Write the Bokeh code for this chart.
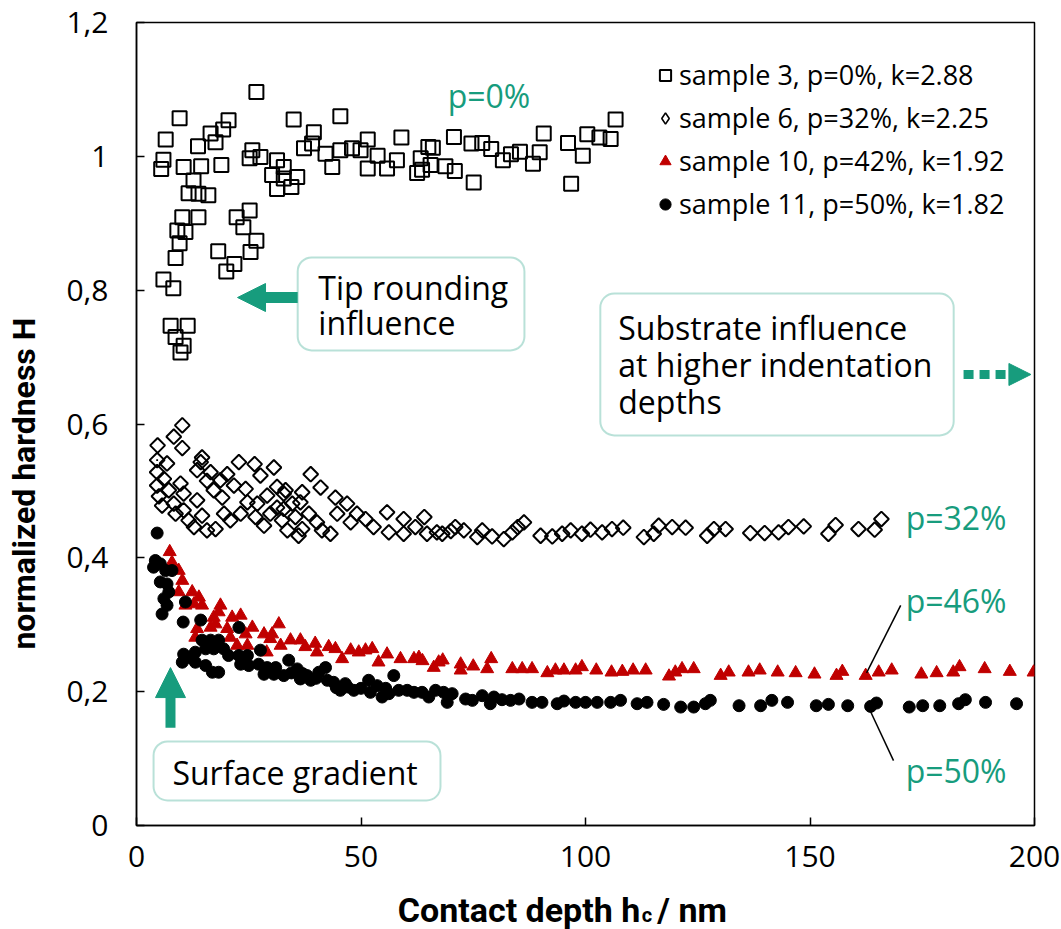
import numpy as np
from bokeh.plotting import figure
from bokeh.layouts import column
from bokeh.models import (Range1d, FixedTicker, CustomJSTickFormatter, Label, BoxAnnotation,
                          Arrow, NormalHead, Legend, LegendItem)
from bokeh.embed import file_html
from bokeh.resources import INLINE

# ---------------- data ----------------
sq_x = [5.5, 6.0, 6.5, 6.0, 7.6, 8.2, 8.7, 8.7, 9.1, 9.6, 9.6, 9.8, 10.2, 10.5, 10.5, 10.9, 11.4, 11.6,
        12.7, 13.7, 13.8, 13.8, 14.4, 16.0, 16.5, 17.6, 18.2, 18.9, 19.3, 20.0, 20.5, 21.8, 22.3, 23.8,
        25.2, 25.4, 25.2, 25.8, 26.7, 26.7, 27.6, 30.2, 31.3, 31.3, 32.8, 32.8, 34.5, 35.0, 35.8, 37.3,
        39.1, 39.5, 42.1, 43.6, 45.4, 45.4, 48.0, 49.9, 51.5, 51.5, 53.7, 55.8, 58.0, 59.0, 62.5, 63.3,
        63.6, 65.0, 65.5, 66.0, 68.8, 70.7, 70.9, 74.6, 75.1, 77.0, 79.0, 81.6, 83.4, 85.4, 88.3, 89.8,
        90.7, 96.1, 96.8, 99.4, 100.4, 103.1, 105.6, 106.7]
sq_y = [0.981, 0.995, 1.025, 0.816, 0.747, 0.803, 0.848, 0.730, 0.889, 0.870, 1.057, 0.707, 0.909, 0.717,
        0.984, 0.887, 0.747, 0.945, 0.964, 1.015, 0.944, 0.909, 0.985, 0.942, 1.034, 1.021, 0.858, 0.987,
        1.040, 0.828, 1.054, 0.839, 0.909, 0.894, 0.919, 0.857, 0.997, 1.009, 0.874, 1.096, 0.999, 0.972,
        0.994, 0.951, 0.984, 0.967, 0.954, 1.055, 0.969, 1.012, 1.019, 1.036, 1.004, 0.984, 1.060, 1.009,
        1.012, 1.009, 1.025, 0.982, 1.001, 0.982, 0.994, 1.028, 0.975, 0.997, 0.980, 1.014, 0.987, 1.013,
        0.985, 1.029, 0.978, 1.019, 0.961, 1.020, 1.011, 0.994, 1.003, 1.007, 0.989, 1.006, 1.034, 1.020,
        0.959, 1.001, 1.033, 1.028, 1.026, 1.055]

di_x = [4.6, 4.6, 4.6, 4.7, 5.0, 5.7, 6.1, 6.8, 7.2, 8.3, 8.3, 8.7, 9.8, 10.2, 10.2, 10.5, 10.5, 11.6,
        12.8, 13.5, 13.5, 14.3, 14.6, 14.6, 15.7, 15.7, 16.5, 17.2, 17.6, 18.7, 19.1, 19.5, 20.2, 20.9,
        21.7, 22.8, 23.2, 24.3, 24.7, 26.3, 26.5, 26.9, 27.6, 28.4, 29.1, 29.8, 30.6, 31.3, 31.3, 32.4,
        32.8, 32.8, 33.2, 33.6, 34.7, 35.4, 36.1, 36.5, 36.9, 36.9, 38.4, 38.8, 40.2, 41.0, 41.3, 43.2,
        44.3, 44.7, 46.9, 47.7, 49.1, 51.0, 52.8, 55.8, 56.2, 59.5, 59.5, 62.1, 64.1, 64.7, 66.9, 68.1,
        70.0, 71.0, 72.9, 75.9, 77.0, 79.2, 81.8, 83.7, 84.9, 86.3, 90.0, 92.6, 94.8, 96.7, 99.2, 101.1,
        103.7, 105.9, 108.4, 113.0, 115.2, 116.3, 119.3, 122.3, 127.1, 128.6, 131.2, 136.7, 139.9, 143.0,
        145.2, 148.6, 154.1, 155.7, 160.8, 164.4, 165.9]
di_y = [0.546, 0.528, 0.508, 0.568, 0.492, 0.478, 0.518, 0.541, 0.501, 0.581, 0.481, 0.466, 0.511, 0.598,
        0.564, 0.496, 0.471, 0.456, 0.446, 0.486, 0.531, 0.543, 0.550, 0.463, 0.515, 0.441, 0.528, 0.501,
        0.443, 0.516, 0.490, 0.466, 0.525, 0.456, 0.508, 0.543, 0.466, 0.503, 0.483, 0.540, 0.461, 0.481,
        0.523, 0.448, 0.493, 0.466, 0.535, 0.506, 0.475, 0.456, 0.496, 0.473, 0.501, 0.441, 0.481, 0.461,
        0.433, 0.483, 0.498, 0.443, 0.466, 0.525, 0.453, 0.505, 0.441, 0.436, 0.490, 0.466, 0.481, 0.453,
        0.466, 0.458, 0.446, 0.468, 0.438, 0.458, 0.436, 0.446, 0.461, 0.436, 0.438, 0.436, 0.440, 0.446,
        0.441, 0.431, 0.441, 0.432, 0.428, 0.438, 0.446, 0.453, 0.433, 0.432, 0.436, 0.441, 0.436, 0.442,
        0.438, 0.443, 0.445, 0.431, 0.436, 0.448, 0.446, 0.445, 0.433, 0.443, 0.443, 0.437, 0.437, 0.438,
        0.446, 0.447, 0.436, 0.449, 0.443, 0.442, 0.458]

tr_x = [7.4, 7.9, 9.4, 10.2, 9.4, 12.4, 13.9, 10.9, 12.8, 14.6, 17.2, 18.7, 18.3, 13.5, 13.1, 16.5, 17.6,
        20.2, 21.3, 23.2, 20.9, 22.4, 24.7, 25.8, 24.3, 28.4, 29.8, 31.7, 29.0, 30.2, 32.1, 34.3, 36.5,
        37.6, 39.8, 40.2, 42.8, 44.3, 45.8, 47.7, 49.5, 51.0, 52.5, 53.9, 55.8, 58.8, 61.8, 62.9, 63.7,
        66.2, 67.3, 68.2, 72.2, 72.2, 75.0, 79.0, 78.1, 83.7, 85.9, 88.1, 91.5, 93.3, 95.2, 97.8, 99.2,
        102.4, 105.8, 108.2, 110.6, 113.4, 118.6, 120.0, 121.5, 124.1, 130.1, 131.9, 136.3, 138.8, 142.8,
        146.8, 151.0, 155.9, 157.2, 162.4, 165.3, 168.2, 174.8, 178.2, 181.9, 183.3, 188.9, 194.5, 199.8]
tr_y = [0.409, 0.393, 0.381, 0.366, 0.349, 0.349, 0.341, 0.329, 0.331, 0.329, 0.311, 0.329, 0.319, 0.294,
        0.281, 0.296, 0.301, 0.294, 0.311, 0.314, 0.281, 0.269, 0.269, 0.296, 0.286, 0.286, 0.279, 0.301,
        0.259, 0.286, 0.269, 0.277, 0.277, 0.267, 0.272, 0.259, 0.267, 0.264, 0.249, 0.262, 0.259, 0.262,
        0.264, 0.244, 0.256, 0.249, 0.249, 0.251, 0.246, 0.236, 0.244, 0.247, 0.241, 0.232, 0.238, 0.249,
        0.234, 0.234, 0.234, 0.234, 0.228, 0.232, 0.232, 0.232, 0.237, 0.232, 0.229, 0.230, 0.232, 0.232,
        0.223, 0.229, 0.234, 0.234, 0.224, 0.229, 0.229, 0.232, 0.229, 0.228, 0.226, 0.224, 0.230, 0.224,
        0.229, 0.232, 0.226, 0.228, 0.229, 0.237, 0.234, 0.230, 0.229]

ci_x = [4.6, 4.2, 3.8, 5.3, 6.5, 7.9, 5.3, 6.8, 7.2, 6.1, 6.8, 5.7, 10.9, 10.4, 14.3, 22.8, 10.5, 10.2,
        11.6, 13.1, 13.1, 14.6, 16.5, 18.3, 15.4, 17.2, 19.4, 20.5, 15.4, 16.9, 18.3, 22.8, 23.2, 24.7,
        25.0, 27.6, 27.2, 29.1, 31.0, 28.4, 33.9, 35.8, 30.6, 32.8, 34.5, 37.0, 42.1, 40.6, 38.0, 36.5,
        38.8, 40.0, 42.5, 43.9, 44.5, 46.5, 45.4, 47.0, 48.4, 50.0, 51.7, 53.6, 57.3, 52.1, 54.7, 55.5,
        56.2, 58.4, 60.3, 61.8, 63.6, 65.1, 66.6, 68.4, 70.3, 69.2, 73.3, 74.8, 77.0, 78.8, 79.6, 81.4,
        83.3, 85.2, 88.1, 90.3, 93.7, 95.2, 97.8, 100.0, 102.6, 105.6, 107.8, 111.5, 113.7, 117.4, 121.2,
        124.1, 126.7, 127.8, 134.2, 139.0, 141.5, 145.0, 151.4, 154.1, 158.4, 163.5, 164.8, 172.1, 175.1,
        178.9, 183.1, 184.6, 189.1, 196.0]
ci_y = [0.437, 0.396, 0.386, 0.391, 0.381, 0.381, 0.364, 0.361, 0.349, 0.339, 0.329, 0.316, 0.334, 0.304,
        0.307, 0.296, 0.256, 0.244, 0.251, 0.259, 0.244, 0.277, 0.277, 0.277, 0.264, 0.264, 0.264, 0.254,
        0.239, 0.229, 0.229, 0.254, 0.241, 0.254, 0.239, 0.262, 0.241, 0.236, 0.236, 0.226, 0.247, 0.234,
        0.226, 0.224, 0.228, 0.227, 0.236, 0.229, 0.224, 0.219, 0.217, 0.220, 0.217, 0.214, 0.206, 0.212,
        0.202, 0.207, 0.202, 0.205, 0.217, 0.209, 0.224, 0.199, 0.192, 0.205, 0.197, 0.202, 0.202, 0.199,
        0.199, 0.192, 0.202, 0.199, 0.197, 0.184, 0.189, 0.187, 0.194, 0.182, 0.192, 0.188, 0.187, 0.189,
        0.184, 0.184, 0.182, 0.186, 0.184, 0.184, 0.184, 0.184, 0.187, 0.182, 0.184, 0.181, 0.177, 0.177,
        0.182, 0.187, 0.179, 0.179, 0.187, 0.184, 0.179, 0.181, 0.179, 0.178, 0.183, 0.177, 0.179, 0.179,
        0.182, 0.188, 0.184, 0.182]

legend_labels = ["sample 3, p=0%, k=2.88", "sample 6, p=32%, k=2.25",
                 "sample 10, p=42%, k=1.92", "sample 11, p=50%, k=1.82"]
x_ticks = [0, 50, 100, 150, 200]
y_ticks = [0, 0.2, 0.4, 0.6, 0.8, 1.0, 1.2]

# ---------------- styling ----------------
GREEN = "#179C7D"
RED = "#C00000"
FONT = "Open Sans"
TFONT = "Roboto"
NB = "\u00a0"

xr = Range1d(0, 200)
p = figure(width=1061, height=885, x_range=xr, y_range=Range1d(0, 1.2),
           output_backend="svg", toolbar_location=None,
           min_border_left=136, min_border_right=27, min_border_top=22, min_border_bottom=60)
p.xgrid.visible = False
p.ygrid.visible = False
p.outline_line_color = "black"
p.outline_line_width = 1.5
p.background_fill_color = "white"
p.border_fill_color = "white"

for ax in (p.xaxis[0], p.yaxis[0]):
    ax.major_tick_in = 8
    ax.major_tick_out = 0
    ax.minor_tick_line_color = None
    ax.axis_line_width = 1.5
    ax.major_tick_line_width = 1.5
    ax.major_label_text_font = FONT
    ax.major_label_text_font_size = "30px"
    ax.major_label_text_color = "black"
p.xaxis.ticker = FixedTicker(ticks=x_ticks)
p.yaxis.ticker = FixedTicker(ticks=y_ticks)
p.yaxis.formatter = CustomJSTickFormatter(code="var s = (Math.round(tick*10)/10).toString(); return s.replace('.', ',');")
p.xaxis.major_label_standoff = 20
p.yaxis.major_label_standoff = 28
p.yaxis.axis_label = "normalized hardness H" + NB * 15
p.yaxis.axis_label_text_font = TFONT
p.yaxis.axis_label_text_font_style = "bold"
p.yaxis.axis_label_text_font_size = "32px"
p.yaxis.axis_label_text_color = "black"
p.yaxis.axis_label_standoff = 20

r_sq = p.scatter(sq_x, sq_y, marker="square", size=14, fill_alpha=0, line_color="black", line_width=2)
r_di = p.scatter(di_x, di_y, marker="square", angle=np.pi / 4, size=10.5, fill_alpha=0,
                 line_color="black", line_width=2)
r_tr = p.scatter(tr_x, tr_y, marker="triangle", size=13, fill_color=RED, line_color=RED, line_width=1)
r_ci = p.scatter(ci_x, ci_y, marker="circle", size=12, fill_color="black", line_color="black")
# legend symbol for the diamonds (legend glyphs are drawn unrotated); tiny in the plot itself
r_di_leg = p.scatter(di_x[:1], di_y[:1], marker="diamond", size=1, fill_alpha=0,
                     line_color="black", line_width=1.6)

legend = Legend(items=[LegendItem(label=legend_labels[0], renderers=[r_sq]),
                       LegendItem(label=legend_labels[1], renderers=[r_di_leg]),
                       LegendItem(label=legend_labels[2], renderers=[r_tr]),
                       LegendItem(label=legend_labels[3], renderers=[r_ci])],
                location=(515, 603), orientation="vertical",
                glyph_width=28, glyph_height=30, label_height=30, spacing=6,
                padding=0, margin=0, label_standoff=0,
                label_text_font=FONT, label_text_font_size="27px", label_text_color="black",
                border_line_alpha=0, background_fill_alpha=0)
p.add_layout(legend, "center")

# ---------------- annotation boxes ----------------
def box(l, r, t, b):
    p.add_layout(BoxAnnotation(left=l, right=r, top=t, bottom=b, fill_color="white", fill_alpha=1,
                               line_color=GREEN, line_width=2, border_radius=14))

box(35.9, 86.4, 0.849, 0.710)
box(103.3, 182.0, 0.795, 0.583)
box(3.8, 67.7, 0.1256, 0.0374)

def label(fig, x, y, text, size="32px", color="black", align="left", font=FONT, style="normal",
          baseline="middle"):
    fig.add_layout(Label(x=x, y=y, text=text, text_font=font, text_font_size=size, text_color=color,
                         text_align=align, text_baseline=baseline, text_font_style=style))

label(p, 40.5, 0.804, "Tip rounding")
label(p, 40.5, 0.752, "influence")
label(p, 107.3, 0.744, "Substrate influence")
label(p, 107.3, 0.689, "at higher indentation")
label(p, 107.3, 0.634, "depths")
label(p, 8.0, 0.079, "Surface gradient")
label(p, 69.3, 1.091, "p=0%", color=GREEN)
label(p, 171.3, 0.460, "p=32%", color=GREEN)
label(p, 171.3, 0.336, "p=46%", color=GREEN)
label(p, 171.3, 0.082, "p=50%", color=GREEN)

# ---------------- arrows & leader lines ----------------
def seg(x0, y0, x1, y1, w, color, dash="solid"):
    p.add_layout(Arrow(x_start=x0, y_start=y0, x_end=x1, y_end=y1, end=None, line_width=w,
                       line_color=color, line_dash=dash, line_cap="butt"))

def head(x0, y0, x1, y1, size):
    p.add_layout(Arrow(x_start=x0, y_start=y0, x_end=x1, y_end=y1, line_alpha=0,
                       end=NormalHead(size=size, fill_color=GREEN, line_color=GREEN, line_width=1)))

seg(35.9, 0.789, 26.5, 0.789, 11, GREEN)
head(27.0, 0.789, 22.5, 0.789, 28)
seg(7.57, 0.146, 7.57, 0.206, 10, GREEN)
head(7.57, 0.220, 7.57, 0.236, 30)
seg(184.2, 0.674, 194.6, 0.674, 9, GREEN, dash="10 6")
head(196.0, 0.674, 199.2, 0.674, 22)
seg(170.2, 0.329, 162.6, 0.228, 1.5, "black")
seg(162.6, 0.183, 168.6, 0.097, 1.5, "black")

# ---------------- x-axis title strip (same x scale) ----------------
pb = figure(width=1061, height=44, x_range=xr, y_range=Range1d(0, 1),
            output_backend="svg", toolbar_location=None, x_axis_type=None, y_axis_type=None,
            min_border_left=136, min_border_right=27, min_border_top=0, min_border_bottom=0)
pb.outline_line_color = None
pb.xgrid.visible = False
pb.ygrid.visible = False
label(pb, 112.2, 0.45, "Contact depth h", size="34px", align="right", font=TFONT, style="bold")
label(pb, 112.5, 0.06, "c", size="20px", align="left", font=TFONT, style="bold", baseline="bottom")
label(pb, 116.0, 0.45, " / nm", size="34px", align="left", font=TFONT, style="bold")

layout = column(p, pb, spacing=0)
open("out.html", "w").write(file_html(layout, INLINE))
